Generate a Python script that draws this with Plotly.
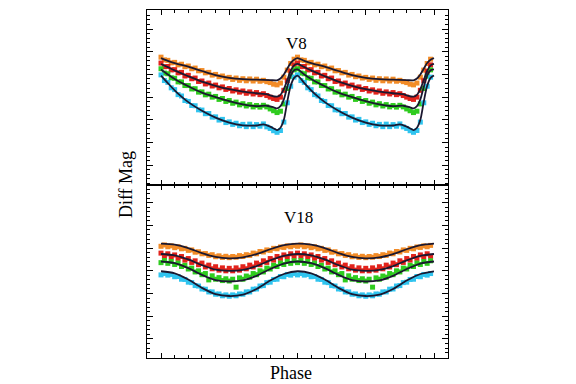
import plotly.graph_objects as go

# ---------------- data ----------------
# sample phases of the folded observations (one cycle; drawn twice)
pts_phase = [0.0, 0.025, 0.05, 0.075, 0.1, 0.125, 0.15, 0.175, 0.2, 0.225,
             0.25, 0.275, 0.3, 0.325, 0.35, 0.375, 0.4, 0.425, 0.45, 0.475,
             0.5, 0.525, 0.55, 0.575, 0.6, 0.625, 0.65, 0.675, 0.7, 0.725,
             0.75, 0.775, 0.8, 0.825, 0.85, 0.875, 0.9, 0.925, 0.95, 0.975]

# V8 observations
v8_orange_pts = [0.124, 0.136, 0.138, 0.149, 0.147, 0.158, 0.155, 0.166, 0.163, 0.175,
                 0.172, 0.184, 0.183, 0.193, 0.191, 0.203, 0.200, 0.210, 0.207, 0.216,
                 0.213, 0.222, 0.216, 0.226, 0.219, 0.228, 0.220, 0.229, 0.221, 0.230,
                 0.226, 0.232, 0.236, 0.243, 0.246, 0.238, 0.212, 0.181, 0.152, 0.133]
v8_red_pts = [0.150, 0.166, 0.165, 0.180, 0.179, 0.193, 0.191, 0.207, 0.204, 0.219,
              0.216, 0.231, 0.229, 0.242, 0.238, 0.251, 0.247, 0.259, 0.255, 0.266,
              0.262, 0.273, 0.268, 0.278, 0.273, 0.283, 0.277, 0.286, 0.280, 0.289,
              0.285, 0.293, 0.300, 0.306, 0.310, 0.300, 0.270, 0.228, 0.186, 0.158]
v8_green_pts = [0.175, 0.194, 0.197, 0.215, 0.217, 0.233, 0.233, 0.249, 0.249, 0.264,
                0.263, 0.278, 0.277, 0.290, 0.287, 0.300, 0.297, 0.310, 0.306, 0.319,
                0.315, 0.327, 0.322, 0.334, 0.329, 0.339, 0.333, 0.343, 0.337, 0.344,
                0.336, 0.343, 0.352, 0.360, 0.368, 0.362, 0.330, 0.262, 0.208, 0.180]
v8_cyan_pts = [0.202, 0.227, 0.235, 0.259, 0.267, 0.289, 0.295, 0.315, 0.319, 0.337,
               0.338, 0.356, 0.357, 0.373, 0.372, 0.388, 0.387, 0.401, 0.398, 0.412,
               0.409, 0.420, 0.415, 0.426, 0.420, 0.430, 0.419, 0.430, 0.421, 0.428,
               0.418, 0.431, 0.438, 0.448, 0.455, 0.447, 0.410, 0.325, 0.252, 0.212]

# V8 model curves
v8_orange_fit_ph = [0, 0.05, 0.1, 0.2, 0.3, 0.4, 0.5, 0.6, 0.7, 0.8, 0.85, 0.875, 0.9, 0.925, 0.95, 0.975, 1.0]
v8_orange_fit = [0.128, 0.140, 0.150, 0.166, 0.185, 0.203, 0.215, 0.221, 0.223, 0.225, 0.226, 0.218, 0.200, 0.175, 0.150, 0.135, 0.128]
v8_red_fit_ph = [0, 0.05, 0.1, 0.2, 0.3, 0.4, 0.5, 0.6, 0.7, 0.775, 0.8, 0.85, 0.875, 0.9, 0.925, 0.95, 0.975, 1.0]
v8_red_fit = [0.154, 0.168, 0.182, 0.208, 0.232, 0.250, 0.265, 0.276, 0.283, 0.287, 0.292, 0.298, 0.290, 0.265, 0.225, 0.185, 0.160, 0.154]
v8_green_fit_ph = [0, 0.05, 0.1, 0.2, 0.3, 0.4, 0.5, 0.6, 0.7, 0.775, 0.825, 0.85, 0.875, 0.9, 0.925, 0.95, 0.975, 1.0]
v8_green_fit = [0.178, 0.200, 0.220, 0.252, 0.280, 0.300, 0.318, 0.332, 0.340, 0.338, 0.345, 0.350, 0.340, 0.310, 0.255, 0.205, 0.182, 0.178]
v8_cyan_fit_ph = [0, 0.05, 0.1, 0.15, 0.2, 0.3, 0.4, 0.5, 0.6, 0.7, 0.75, 0.8, 0.85, 0.875, 0.9, 0.925, 0.95, 0.975, 1.0]
v8_cyan_fit = [0.205, 0.238, 0.270, 0.298, 0.322, 0.360, 0.390, 0.412, 0.424, 0.425, 0.420, 0.430, 0.445, 0.435, 0.400, 0.320, 0.250, 0.215, 0.205]

# V18 observations
v18_orange_pts = [0.192, 0.186, 0.194, 0.190, 0.198, 0.194, 0.203, 0.201, 0.210, 0.208,
                  0.218, 0.216, 0.225, 0.224, 0.232, 0.229, 0.238, 0.234, 0.241, 0.236,
                  0.242, 0.237, 0.240, 0.233, 0.237, 0.229, 0.232, 0.222, 0.225, 0.215,
                  0.217, 0.208, 0.210, 0.201, 0.203, 0.195, 0.197, 0.190, 0.194, 0.188]
v18_red_pts = [0.222, 0.236, 0.225, 0.239, 0.230, 0.245, 0.237, 0.253, 0.246, 0.263,
               0.256, 0.273, 0.266, 0.283, 0.275, 0.291, 0.282, 0.297, 0.287, 0.300,
               0.289, 0.300, 0.287, 0.297, 0.282, 0.291, 0.275, 0.283, 0.266, 0.273,
               0.256, 0.263, 0.246, 0.253, 0.237, 0.245, 0.230, 0.239, 0.225, 0.236]
v18_green_pts = [0.264, 0.255, 0.267, 0.259, 0.272, 0.266, 0.281, 0.276, 0.292, 0.288,
                 0.305, 0.300, 0.317, 0.312, 0.340, 0.322, 0.337, 0.330, 0.343, 0.335,
                 0.345, 0.337, 0.372, 0.331, 0.337, 0.323, 0.328, 0.312, 0.317, 0.300,
                 0.305, 0.288, 0.292, 0.276, 0.281, 0.266, 0.272, 0.259, 0.267, 0.256]
v18_cyan_pts = [0.318, 0.312, 0.319, 0.316, 0.326, 0.325, 0.337, 0.338, 0.350, 0.352,
                0.365, 0.367, 0.380, 0.381, 0.393, 0.393, 0.403, 0.402, 0.410, 0.406,
                0.412, 0.406, 0.410, 0.402, 0.403, 0.393, 0.393, 0.381, 0.380, 0.367,
                0.365, 0.352, 0.350, 0.338, 0.337, 0.325, 0.326, 0.316, 0.319, 0.312]

# V18 model curves
v18_fit_ph = [0.0, 0.1, 0.2, 0.3, 0.4, 0.5, 0.6, 0.7, 0.8, 0.9, 1.0]
v18_orange_fit = [0.180, 0.185, 0.200, 0.222, 0.239, 0.245, 0.241, 0.226, 0.205, 0.187, 0.180]
v18_red_fit = [0.226, 0.232, 0.250, 0.275, 0.295, 0.300, 0.296, 0.279, 0.254, 0.234, 0.226]
v18_green_fit = [0.259, 0.266, 0.288, 0.318, 0.341, 0.347, 0.342, 0.322, 0.292, 0.268, 0.259]
v18_cyan_fit = [0.302, 0.311, 0.338, 0.375, 0.403, 0.411, 0.405, 0.380, 0.343, 0.314, 0.302]

colors = {"orange": "#f28c28", "red": "#e2231c", "green": "#2fcc1f", "cyan": "#30c4ef"}
line_color = "#1b1830"
serif = "Liberation Serif, Times New Roman, serif"


def two_cycles_pts(ph, mag):
    return ph + [p + 1 for p in ph], mag + mag


def two_cycles_fit(ph, mag):
    return ph + [p + 1 for p in ph[1:]], mag + mag[1:]


fig = go.Figure()

panels = [
    ("x2", "y2",
     [("orange", v8_orange_pts), ("red", v8_red_pts), ("green", v8_green_pts), ("cyan", v8_cyan_pts)],
     [(v8_orange_fit_ph, v8_orange_fit), (v8_red_fit_ph, v8_red_fit),
      (v8_green_fit_ph, v8_green_fit), (v8_cyan_fit_ph, v8_cyan_fit)]),
    ("x", "y",
     [("orange", v18_orange_pts), ("red", v18_red_pts), ("green", v18_green_pts), ("cyan", v18_cyan_pts)],
     [(v18_fit_ph, v18_orange_fit), (v18_fit_ph, v18_red_fit),
      (v18_fit_ph, v18_green_fit), (v18_fit_ph, v18_cyan_fit)]),
]

for xa, ya, pts, fits in panels:
    for cname, mags in pts:
        xs, ys = two_cycles_pts(pts_phase, mags)
        fig.add_trace(go.Scatter(x=xs, y=ys, mode="markers", xaxis=xa, yaxis=ya,
                                 marker=dict(symbol="square", size=5, color=colors[cname],
                                             line=dict(width=0)),
                                 showlegend=False, hoverinfo="skip"))
    for ph, mags in fits:
        xs, ys = two_cycles_fit(ph, mags)
        fig.add_trace(go.Scatter(x=xs, y=ys, mode="lines", xaxis=xa, yaxis=ya,
                                 line=dict(color=line_color, width=1.8, shape="spline", smoothing=0.8),
                                 showlegend=False, hoverinfo="skip"))

split = 173 / 348

xcommon = dict(range=[-0.1026, 2.1026], showgrid=False, zeroline=False, showline=True,
               linecolor="black", linewidth=1, mirror="allticks", ticks="inside",
               ticklen=5, tickwidth=1, tickcolor="black", tick0=0, dtick=0.5,
               showticklabels=False,
               minor=dict(ticks="inside", ticklen=3, dtick=0.1, tick0=0, tickcolor="black"))
ycommon = dict(showgrid=False, zeroline=False, showline=True, linecolor="black",
               linewidth=1, mirror="allticks", ticks="inside", ticklen=6, tickwidth=1,
               tickcolor="black", tick0=0, dtick=0.1, showticklabels=False,
               minor=dict(ticks="inside", ticklen=3, dtick=0.02, tick0=0, tickcolor="black"))

fig.update_layout(
    width=576, height=384,
    margin=dict(l=139, r=136, t=2, b=34),
    paper_bgcolor="white", plot_bgcolor="white",
    xaxis=dict(**xcommon, domain=[0, 1], anchor="y"),
    xaxis2=dict(**xcommon, domain=[0, 1], anchor="y2", matches="x"),
    yaxis=dict(**ycommon, domain=[0, split], range=[0.684, -0.078], anchor="x"),
    yaxis2=dict(**ycommon, domain=[split, 1], range=[0.687, -0.0837], anchor="x2"),
    annotations=[
        dict(text="V8", xref="x2", yref="y2", x=0.99, y=0.063, showarrow=False,
             font=dict(family=serif, size=17, color="black")),
        dict(text="V18", xref="x", yref="y", x=1.01, y=0.064, showarrow=False,
             font=dict(family=serif, size=17, color="black")),
        dict(text="Diff Mag", xref="paper", yref="paper", x=0, y=0.497, xshift=-21,
             textangle=-90, showarrow=False, xanchor="center", yanchor="middle",
             font=dict(family=serif, size=18, color="black")),
        dict(text="Phase", xref="paper", yref="paper", x=0.478, y=-0.043,
             showarrow=False, xanchor="center", yanchor="middle",
             font=dict(family=serif, size=18, color="black")),
    ],
)

fig.write_html("out.html")
